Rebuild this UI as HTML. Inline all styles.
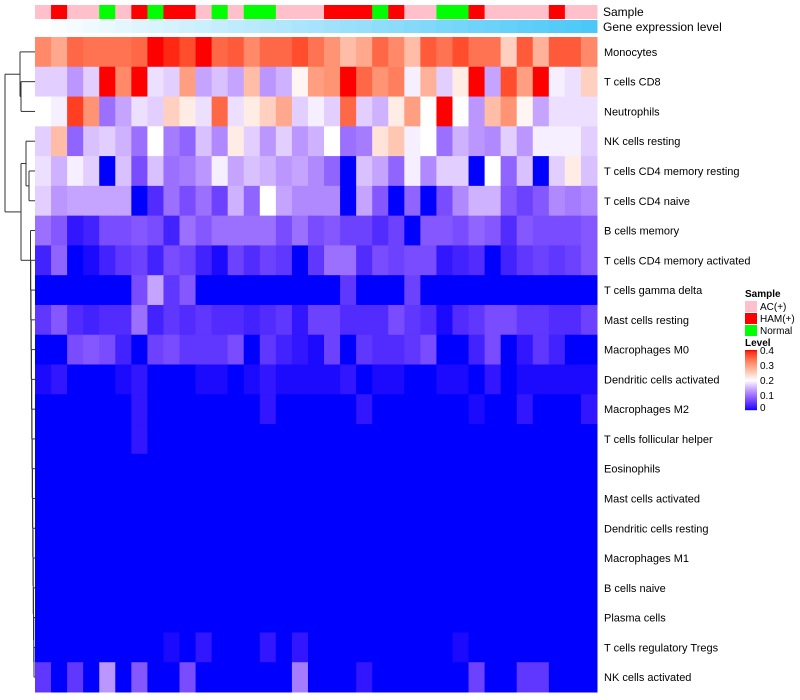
<!DOCTYPE html>
<html><head><meta charset="utf-8"><style>
body{margin:0;background:#fff;}
svg{display:block;font-family:"Liberation Sans",sans-serif;}
</style></head><body>
<svg id="chart" width="800" height="700">
<g id="dendro" stroke="#333" stroke-width="1" fill="none"></g>
<g id="annot"></g>
<g id="cells"></g>
<g id="rowlabels" font-size="11" fill="#000" style="white-space:pre"></g>
<text x="603" y="16" font-size="12">Sample</text>
<text x="603" y="31" font-size="12">Gene expression level</text>
<g font-size="10">
<text x="745" y="297" font-weight="bold">Sample</text>
<rect x="745" y="301" width="12" height="11" fill="#FFC0CB"/>
<text x="760" y="310">AC(+)</text>
<rect x="745" y="313" width="12" height="11" fill="#FF0000"/>
<text x="760" y="322">HAM(+)</text>
<rect x="745" y="325" width="12" height="11" fill="#00FF00"/>
<text x="760" y="334">Normal</text>
</g>
<g id="levleg" font-size="10">
<text x="745" y="346" font-weight="bold">Level</text>
</g>
</svg>
<script>
const rowNames=["Monocytes","T cells CD8","Neutrophils","NK cells resting","T cells CD4 memory resting","T cells CD4 naive","B cells memory","T cells CD4 memory activated","T cells gamma delta","Mast cells resting","Macrophages M0","Dendritic cells activated","Macrophages M2","T cells follicular helper","Eosinophils","Mast cells activated","Dendritic cells resting","Macrophages M1","B cells naive","Plasma cells","T cells regulatory  Tregs","NK cells activated"];
const sampleGroups=["AC","HAM","AC","AC","N","AC","HAM","N","HAM","HAM","AC","N","AC","N","N","AC","AC","AC","HAM","HAM","HAM","N","HAM","AC","AC","N","N","HAM","AC","AC","AC","AC","HAM","AC","AC"];
const levelTicks=[0,0.1,0.2,0.3,0.4];
const zeroRow=()=>Array(35).fill(0);
const r1=[0.32,0.29,0.35,0.34,0.34,0.34,0.35,0.4,0.39,0.37,0.4,0.35,0.36,0.32,0.35,0.35,0.37,0.34,0.31,0.27,0.29,0.35,0.32,0.27,0.36,0.34,0.37,0.34,0.34,0.25,0.36,0.28,0.36,0.36,0.32];
const r2=[0.17,0.17,0.13,0.17,0.4,0.32,0.4,0.18,0.17,0.3,0.14,0.16,0.14,0.27,0.13,0.15,0.21,0.3,0.31,0.4,0.35,0.31,0.33,0.19,0.28,0.17,0.22,0.4,0.14,0.37,0.3,0.4,0.19,0.18,0.25];
const r3=[0.2,0.19,0.38,0.31,0.1,0.14,0.18,0.17,0.25,0.22,0.18,0.35,0.18,0.22,0.25,0.29,0.17,0.19,0.17,0.35,0.17,0.15,0.22,0.3,0.2,0.4,0.2,0.13,0.27,0.31,0.21,0.14,0.18,0.18,0.18];
const r4=[0.17,0.27,0.09,0.16,0.17,0.15,0.1,0.2,0.11,0.09,0.16,0.12,0.22,0.17,0.13,0.17,0.13,0.15,0.2,0.1,0.11,0.23,0.26,0.19,0.2,0.1,0.15,0.13,0.12,0.17,0.13,0.19,0.19,0.19,0.17];
const r5=[0.18,0.15,0.19,0.17,0,0.16,0.07,0.16,0.1,0.11,0.13,0.19,0.14,0.16,0.15,0.13,0.14,0.12,0.09,0,0.16,0.14,0.09,0.19,0.12,0.17,0.17,0,0.2,0.09,0.16,0,0.17,0.22,0.16];
const r6=[0.17,0.13,0.14,0.14,0.14,0.14,0,0.04,0.1,0.07,0.1,0.06,0.15,0.09,0.2,0.14,0.12,0.12,0.12,0,0.14,0.08,0,0.09,0,0.07,0.12,0.15,0.15,0.08,0.06,0.08,0.12,0.11,0.12];
const r7=[0.1,0.08,0.02,0.03,0.07,0.07,0.08,0.07,0.03,0.1,0.08,0.1,0.1,0.1,0.1,0.07,0.1,0.07,0.08,0.06,0.06,0.04,0.06,0,0.08,0.08,0.07,0.09,0.08,0.04,0.08,0.07,0.07,0.07,0.08];
const r8=[0.03,0.09,0,0.01,0.03,0.05,0.06,0.03,0.07,0.06,0.03,0.01,0.06,0.04,0.06,0.05,0,0.05,0.1,0.1,0.04,0.07,0.06,0.07,0.07,0.02,0.03,0.04,0,0.03,0.05,0.06,0.05,0.06,0.08];
const r9=[0,0,0,0,0,0,0.07,0.14,0.05,0.08,0,0,0,0,0,0,0,0,0,0.05,0,0,0,0.06,0,0,0,0,0,0,0,0,0,0,0];
const r10=[0.05,0.08,0.04,0.03,0.04,0.04,0.1,0.03,0.05,0.04,0.05,0.04,0.04,0.03,0.04,0.05,0.02,0.06,0.06,0.04,0.04,0.04,0.07,0.05,0.04,0.01,0.04,0.05,0.07,0.07,0.05,0.05,0.04,0.04,0.06];
const r11=[0,0,0.07,0.08,0.07,0.03,0,0.06,0.07,0.05,0.05,0.05,0.07,0,0.05,0.03,0.02,0.01,0.06,0,0.05,0.04,0.04,0.05,0.07,0,0,0.03,0.07,0,0.02,0.05,0.03,0,0];
const r12=[0.01,0.02,0,0,0,0.01,0.02,0,0,0,0.01,0.01,0,0.01,0.02,0.01,0.01,0.01,0.01,0.02,0,0.01,0.01,0,0,0.01,0.01,0,0.02,0,0.01,0.01,0.01,0.01,0.01];
const r13=[0,0,0,0,0,0,0.02,0,0,0,0,0,0,0,0.02,0,0,0,0,0,0.02,0,0,0,0,0,0,0.01,0,0,0.02,0,0,0,0.02];
const r14=[0,0,0,0,0,0,0.02,0,0,0,0,0,0,0,0,0,0,0,0,0,0,0,0,0,0,0,0,0,0,0,0,0,0,0,0];
const r21=[0,0,0,0,0,0,0,0,0.01,0,0.02,0,0,0,0.02,0,0.02,0,0,0,0,0,0,0,0,0,0.01,0,0,0,0,0,0,0,0];
const r22=[0.05,0,0.05,0,0.13,0,0.08,0,0,0.07,0,0,0,0,0,0,0.11,0,0,0,0.02,0,0,0,0,0,0,0.06,0,0,0.05,0.05,0,0,0];
const values=[r1,r2,r3,r4,r5,r6,r7,r8,r9,r10,r11,r12,r13,r14,zeroRow(),zeroRow(),zeroRow(),zeroRow(),zeroRow(),zeroRow(),r21,r22];
const sampleColors={AC:"#FFC0CB",HAM:"#FF0000",N:"#00FF00"};

function toLin(c){c/=255;return c<=0.04045?c/12.92:Math.pow((c+0.055)/1.055,2.4);}
function fromLin(c){c=c<=0.0031308?12.92*c:1.055*Math.pow(c,1/2.4)-0.055;return Math.max(0,Math.min(255,Math.round(c*255)));}
function rgb2lab(r,g,b){r=toLin(r);g=toLin(g);b=toLin(b);
let x=(r*0.4124+g*0.3576+b*0.1805)/0.95047,y=(r*0.2126+g*0.7152+b*0.0722),zz=(r*0.0193+g*0.1192+b*0.9505)/1.08883;
const f=t=>t>0.008856?Math.cbrt(t):7.787*t+16/116;x=f(x);y=f(y);zz=f(zz);return[116*y-16,500*(x-y),200*(y-zz)];}
function lab2rgb(L,a,b){let y=(L+16)/116,x=a/500+y,zz=y-b/200;
const fi=t=>t*t*t>0.008856?t*t*t:(t-16/116)/7.787;x=fi(x)*0.95047;y=fi(y);zz=fi(zz)*1.08883;
const rr=x*3.2406+y*-1.5372+zz*-0.4986,gg=x*-0.9689+y*1.8758+zz*0.0415,bb=x*0.0557+y*-0.2040+zz*1.0570;
return `rgb(${fromLin(rr)},${fromLin(gg)},${fromLin(bb)})`;}
const labBlue=rgb2lab(0,0,255),labWhite=rgb2lab(255,255,255),labRed=rgb2lab(255,0,0);
function col(v){v=Math.max(0,Math.min(0.4,v));let a,b,t;if(v<0.2){a=labBlue;b=labWhite;t=Math.pow(v/0.2,1.4);}else{a=labWhite;b=labRed;t=(v-0.2)/0.2;}
return lab2rgb(a[0]+(b[0]-a[0])*t,a[1]+(b[1]-a[1])*t,a[2]+(b[2]-a[2])*t);}

const NS="http://www.w3.org/2000/svg";
const X0=35,X1=597,Y0=37,Y1=692;
const nC=sampleGroups.length,nR=rowNames.length;
const cw=(X1-X0)/nC,rh=(Y1-Y0)/nR;
const xPos=i=>X0+i*cw, yPos=j=>Y0+j*rh;
const cellsG=document.getElementById('cells');
values.forEach((row,j)=>row.forEach((v,i)=>{
 const r=document.createElementNS(NS,'rect');
 r.setAttribute('x',xPos(i));r.setAttribute('y',yPos(j));
 r.setAttribute('width',cw+0.5);r.setAttribute('height',rh+0.5);r.setAttribute('fill',col(v));
 
 
 cellsG.appendChild(r);}));
const annotG=document.getElementById('annot');
sampleGroups.forEach((g,i)=>{
 const r=document.createElementNS(NS,'rect');
 r.setAttribute('x',xPos(i));r.setAttribute('y',5);r.setAttribute('width',cw+0.5);r.setAttribute('height',14);
 r.setAttribute('fill',sampleColors[g]);
 
 
 annotG.appendChild(r);
 const t=i/(nC-1);
 const e=document.createElementNS(NS,'rect');
 e.setAttribute('x',xPos(i));e.setAttribute('y',20);e.setAttribute('width',cw+0.5);e.setAttribute('height',13);
 e.setAttribute('fill',`rgb(${Math.round(255-t*180)},${Math.round(255-t*55)},${Math.round(255-t*7)})`);
 
 
 annotG.appendChild(e);});
const rlG=document.getElementById('rowlabels');
rowNames.forEach((n,j)=>{const t=document.createElementNS(NS,'text');
 t.setAttribute('x',604);t.setAttribute('y',yPos(j)+rh/2+4);t.textContent=n;
 
 
 rlG.appendChild(t);});
const lgG=document.getElementById('levleg');
const legTop=350,legBot=410;
for(let k=0;k<60;k++){const v=0.4-k/60*0.4;const r=document.createElementNS(NS,'rect');
 r.setAttribute('x',745);r.setAttribute('y',legTop+k);r.setAttribute('width',12);r.setAttribute('height',1.2);r.setAttribute('fill',col(v));
 
 
 lgG.appendChild(r);}
levelTicks.forEach(v=>{const y=legBot-v/0.4*(legBot-legTop);const t=document.createElementNS(NS,'text');
 t.setAttribute('x',760);t.setAttribute('y',Math.min(y+4,legBot+1));t.textContent=String(v);
 
 
 lgG.appendChild(t);});
const dG=document.getElementById('dendro');
const yc=j=>yPos(j)+rh/2;
function seg(x1,y1,x2,y2){const l=document.createElementNS(NS,'line');l.setAttribute('x1',x1);l.setAttribute('y1',y1);l.setAttribute('x2',x2);l.setAttribute('y2',y2);dG.appendChild(l);}
function join(ya,yb,xa,xb,xj){seg(xa,ya,xj,ya);seg(xb,yb,xj,yb);seg(xj,ya,xj,yb);return (ya+yb)/2;}
const m23=join(yc(1),yc(2),X0,X0,21);
const topJoin=join(yc(0),m23,X0,21,20);
const m56=join(yc(4),yc(5),X0,X0,29);
const m456=join(yc(3),m56,X0,29,26);
let acc=yc(nR-1),ax=X0;
for(let j=nR-2;j>=6;j--){const xj=Math.max(30,34-(nR-2-j)*0.25);acc=join(yc(j),acc,X0,ax,xj);ax=xj;}
const midJoin=join(m456,acc,26,ax,21);
join(topJoin,midJoin,20,21,5);
</script>
</body></html>
